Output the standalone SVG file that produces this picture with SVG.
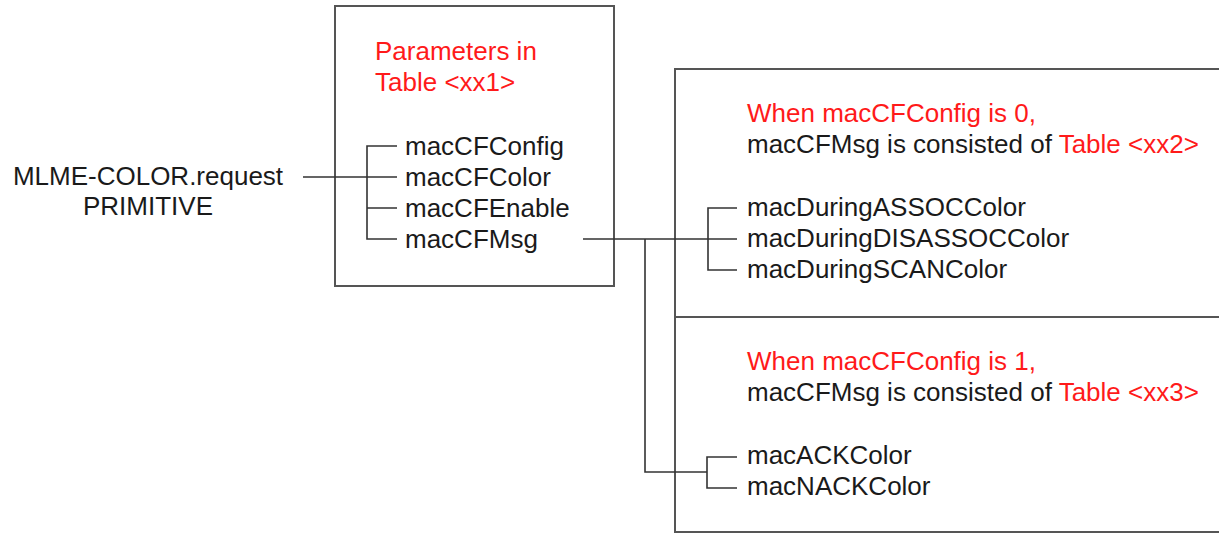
<svg xmlns="http://www.w3.org/2000/svg" width="1219" height="534" viewBox="0 0 1219 534">
<style>
.box{fill:none;stroke:#555;stroke-width:2}
.ln{fill:none;stroke:#333;stroke-width:1.6}
text{font-family:"Liberation Sans",Arial,sans-serif;fill:#1a1a1a;font-size:26px}
.red{fill:#ff1a1a}
</style>
<rect width="1219" height="534" fill="#fff"/>
<g id="primitive">
<text x="148" y="185" text-anchor="middle">MLME-COLOR.request</text>
<text x="148" y="215" text-anchor="middle">PRIMITIVE</text>
</g>
<g id="params">
<rect class="box" x="335" y="6" width="279" height="280"/>
<text class="red" x="375" y="60">Parameters in</text>
<text class="red" x="375" y="91">Table &lt;xx1&gt;</text>
<text x="405" y="155">macCFConfig</text>
<text x="405" y="186">macCFColor</text>
<text x="405" y="217">macCFEnable</text>
<text x="405" y="248">macCFMsg</text>
</g>
<g id="config0">
<rect class="box" x="675" y="69" width="560" height="248"/>
<text class="red" x="747" y="122">When macCFConfig is 0,</text>
<text x="747" y="153">macCFMsg is consisted of <tspan class="red">Table &lt;xx2&gt;</tspan></text>
<text x="747" y="216">macDuringASSOCColor</text>
<text x="747" y="247">macDuringDISASSOCColor</text>
<text x="747" y="278">macDuringSCANColor</text>
</g>
<g id="config1">
<rect class="box" x="675" y="317" width="560" height="215"/>
<text class="red" x="747" y="370">When macCFConfig is 1,</text>
<text x="747" y="401">macCFMsg is consisted of <tspan class="red">Table &lt;xx3&gt;</tspan></text>
<text x="747" y="464">macACKColor</text>
<text x="747" y="495">macNACKColor</text>
</g>
<g id="connectors">
<path class="ln" d="M303 177H397M397 146H367V239H397M367 208H397"/>
<path class="ln" d="M583 239H737M737 208H708V270H737"/>
<path class="ln" d="M645 239V472H707M737 457H707V488H737"/>
</g>
</svg>
